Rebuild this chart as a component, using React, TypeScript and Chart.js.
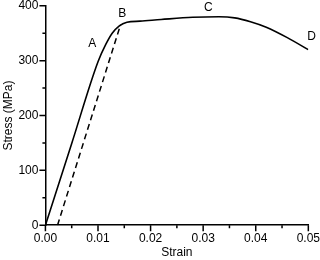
import React, { useEffect, useRef } from "react";
import { Chart, registerables } from "chart.js";
Chart.register(...registerables);

const curveStrain = [0, 0.005, 0.01, 0.0115, 0.0127, 0.014, 0.0155, 0.018, 0.022, 0.028, 0.033, 0.036, 0.039, 0.042, 0.046, 0.05];
const curveStress = [0, 149, 298, 330, 350, 363, 370, 372, 375, 379, 380, 378, 371, 361, 342, 320];
const offsetStrain = [0.0023, 0.0143];
const offsetStress = [0, 366];
const labelText = ["A", "B", "C", "D"];
const labelStrain = [0.0089, 0.0146, 0.031, 0.0506];
const labelStress = [331, 386, 397, 343];
const xTicks = [0, 0.005, 0.01, 0.015, 0.02, 0.025, 0.03, 0.035, 0.04, 0.045, 0.05];
const yTicks = [0, 50, 100, 150, 200, 250, 300, 350, 400];

const FONT = "'Liberation Sans', Arial, sans-serif";

export default function App() {
  const ref = useRef<HTMLCanvasElement>(null);
  useEffect(() => {
    const labelsPlugin = {
      id: "pointLabels",
      afterDatasetsDraw(chart: any) {
        const { ctx, scales } = chart;
        ctx.save();
        ctx.fillStyle = "#000";
        ctx.font = `12px ${FONT}`;
        ctx.textAlign = "center";
        ctx.textBaseline = "middle";
        labelText.forEach((t, i) => {
          ctx.fillText(t, scales.x.getPixelForValue(labelStrain[i]), scales.y.getPixelForValue(labelStress[i]));
        });
        ctx.restore();
      },
    };
    const tickPlugin = {
      id: "customTicks",
      afterDraw(chart: any) {
        const { ctx, scales } = chart;
        const xs = scales.x, ys = scales.y;
        ctx.save();
        ctx.strokeStyle = "#000";
        ctx.lineWidth = 1.5;
        ctx.beginPath();
        xTicks.forEach((v) => {
          const major = Math.round(v * 1000) % 10 === 0;
          const px = xs.getPixelForValue(v);
          ctx.moveTo(px, xs.top);
          ctx.lineTo(px, xs.top + (major ? 6 : 3));
        });
        yTicks.forEach((v) => {
          const major = v % 100 === 0;
          const py = ys.getPixelForValue(v);
          ctx.moveTo(ys.right, py);
          ctx.lineTo(ys.right - (major ? 6 : 3), py);
        });
        ctx.stroke();
        ctx.restore();
      },
    };
    const chart = new Chart(ref.current!, {
      type: "scatter",
      data: {
        datasets: [
          {
            data: curveStrain.map((x, i) => ({ x, y: curveStress[i] })),
            showLine: true,
            borderColor: "#000",
            borderWidth: 1.6,
            pointRadius: 0,
            cubicInterpolationMode: "monotone",
          },
          {
            data: offsetStrain.map((x, i) => ({ x, y: offsetStress[i] })),
            showLine: true,
            borderColor: "#000",
            borderWidth: 1.5,
            borderDash: [6, 4],
            pointRadius: 0,
          },
        ],
      },
      options: {
        animation: false,
        responsive: false,
        layout: { padding: { top: 0, right: 0, left: 1, bottom: 0 } },
        plugins: { legend: { display: false }, tooltip: { enabled: false } },
        scales: {
          x: {
            type: "linear",
            min: 0,
            max: 0.05,
            afterBuildTicks: (s: any) => {
              s.ticks = xTicks.map((v) => ({ value: v }));
            },
            ticks: {
              color: "#000",
              font: { family: FONT, size: 12 },
              maxRotation: 0,
              autoSkip: false,
              padding: 0,
              callback: (v: any) => {
                const n = Math.round(Number(v) * 1000);
                return n % 10 === 0 ? (n / 1000).toFixed(2) : "";
              },
            },
            grid: { display: true, drawOnChartArea: false, tickLength: 6, tickColor: "rgba(0,0,0,0)", color: "rgba(0,0,0,0)" },
            border: { color: "#000", width: 1.5 },
            title: { display: true, text: "Strain", color: "#000", font: { family: FONT, size: 12 }, padding: { top: 0, bottom: 0 } },
          },
          y: {
            min: 0,
            max: 400,
            afterBuildTicks: (s: any) => {
              s.ticks = yTicks.map((v) => ({ value: v }));
            },
            ticks: {
              color: "#000",
              font: { family: FONT, size: 12, lineHeight: 0.8 },
              padding: 1,
              callback: (v: any) => (Number(v) % 100 === 0 ? String(v) : ""),
            },
            grid: { display: true, drawOnChartArea: false, tickLength: 6, tickColor: "rgba(0,0,0,0)", color: "rgba(0,0,0,0)" },
            border: { color: "#000", width: 1.5 },
            title: { display: true, text: "Stress (MPa)", color: "#000", font: { family: FONT, size: 12 }, padding: { top: 0, bottom: 2 } },
          },
        },
      },
      plugins: [labelsPlugin, tickPlugin],
    } as any);
    return () => chart.destroy();
  }, []);
  return (
    <div style={{ position: "fixed", left: 0, top: 0, width: 320, height: 260, background: "#fff" }}>
      <canvas ref={ref} width={320} height={260} />
    </div>
  );
}
